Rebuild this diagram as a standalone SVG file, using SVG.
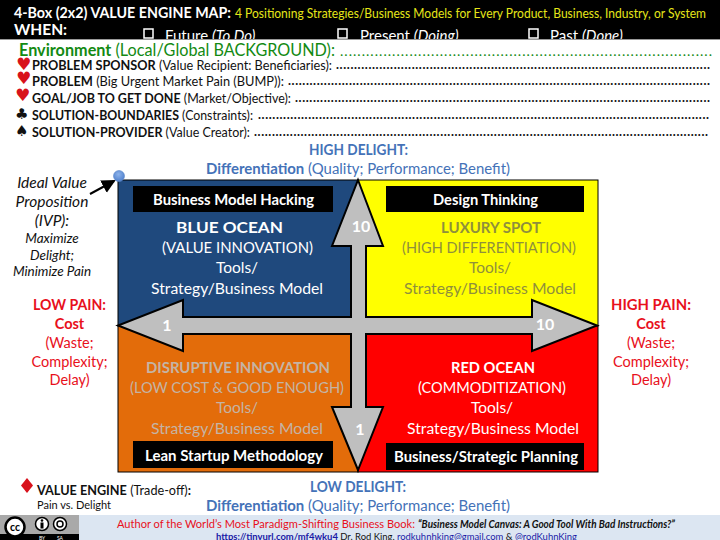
<svg xmlns="http://www.w3.org/2000/svg" width="720" height="540" viewBox="0 0 720 540">
<style>
text{font-family:Lato,"Noto Sans",sans-serif;}
.c{text-anchor:middle}
.b{font-weight:700}
.i{font-style:italic}
.row{font-size:12.5px;fill:#111}
.w{fill:#fff}
.q{font-size:15.5px}
.tag{font-size:14.5px;font-weight:700;fill:#fff;text-anchor:middle}
.blue{fill:#4472b8}
.red{fill:#e8101c}
.m{font-size:14.5px}
.cb{fill:none;stroke:#fff;stroke-width:1.5}
.arr{fill:#bfbfbf;stroke:#000;stroke-width:2;stroke-linejoin:miter}
.num{font-size:16px;font-weight:700;fill:#fff;text-anchor:middle}
.dots{font-size:12.5px;fill:#111;font-weight:700}
.sym{font-family:"DejaVu Sans",sans-serif}
.ol{fill:#8f8f3c}
.or{fill:#c5b4a4}
</style>
<defs>
<marker id="ah" markerWidth="8" markerHeight="8" refX="6" refY="3.5" orient="auto"><path d="M0,0L7,3.5L0,7Z" fill="#000"/></marker>
<radialGradient id="ball" cx="45%" cy="35%" r="70%"><stop offset="0" stop-color="#8db3ea"/><stop offset="1" stop-color="#4a7ccb"/></radialGradient>
</defs>
<g id="header">
<rect x="0" y="0" width="720" height="39" fill="#000"/>
<text x="14" y="18" class="b w" font-size="14.5" textLength="217" lengthAdjust="spacingAndGlyphs">4-Box (2x2) VALUE ENGINE MAP:</text>
<text x="235" y="18" font-size="12.4" fill="#e6e619" textLength="471" lengthAdjust="spacingAndGlyphs">4 Positioning Strategies/Business Models for Every Product, Business, Industry, or System</text>
<text x="14" y="35" class="b w" font-size="15.5">WHEN:</text>
<rect x="144" y="29" width="9" height="9" class="cb"/>
<text x="165" y="41" class="w" font-size="15">Future <tspan class="i">(To Do)</tspan></text>
<rect x="338" y="29" width="9" height="9" class="cb"/>
<text x="360" y="41" class="w" font-size="15">Present <tspan class="i">(Doing)</tspan></text>
<rect x="529" y="29" width="9" height="9" class="cb"/>
<text x="550" y="41" class="w" font-size="15">Past <tspan class="i">(Done)</tspan></text>
<rect x="0" y="39" width="720" height="12" fill="#fff"/>
<rect x="0" y="39" width="720" height="1" fill="#999"/>
</g>
<g id="environment">
<text x="19" y="56" font-size="16.5" fill="#138a13" textLength="316" lengthAdjust="spacingAndGlyphs"><tspan class="b">Environment</tspan> (Local/Global BACKGROUND):</text>
<text x="340" y="56" font-size="14" fill="#138a13" textLength="372" lengthAdjust="spacing">......................................................................................</text>
</g>
<g id="rows">
<text x="16" y="70" font-size="17" fill="#d8121c" class="sym">♥</text>
<text x="32" y="70" class="row" textLength="300" lengthAdjust="spacingAndGlyphs"><tspan class="b">PROBLEM SPONSOR</tspan> (Value Recipient: Beneficiaries):</text>
<text x="336" y="69" class="dots" textLength="374">........................................................................................................</text>
<text x="16" y="84" font-size="17" fill="#d8121c" class="sym">♥</text>
<text x="32" y="86" class="row" textLength="252" lengthAdjust="spacingAndGlyphs"><tspan class="b">PROBLEM</tspan> (Big Urgent Market Pain (BUMP)):</text>
<text x="288" y="85" class="dots" textLength="422">......................................................................................................................</text>
<text x="15" y="101" font-size="17" fill="#d8121c" class="sym">♥</text>
<text x="32" y="103" class="row" textLength="259" lengthAdjust="spacingAndGlyphs"><tspan class="b">GOAL/JOB TO GET DONE</tspan> (Market/Objective):</text>
<text x="295" y="102" class="dots" textLength="415">....................................................................................................................</text>
<text x="15" y="119" font-size="15" fill="#111" class="sym">♣</text>
<text x="32" y="120" class="row" textLength="221" lengthAdjust="spacingAndGlyphs"><tspan class="b">SOLUTION-BOUNDARIES</tspan> (Constraints):</text>
<text x="258" y="119" class="dots" textLength="451">..............................................................................................................................</text>
<text x="15" y="136" font-size="15" fill="#111" class="sym">♠</text>
<text x="32" y="137" class="row" textLength="218" lengthAdjust="spacingAndGlyphs"><tspan class="b">SOLUTION-PROVIDER</tspan> (Value Creator):</text>
<text x="254" y="136" class="dots" textLength="454">...............................................................................................................................</text>
</g>
<g id="top-label">
<text x="358.500" y="155" class="c b blue" font-size="14.5" textLength="99" lengthAdjust="spacingAndGlyphs">HIGH DELIGHT:</text>
<text x="206" y="174" class="blue" font-size="14.5" textLength="304" lengthAdjust="spacingAndGlyphs"><tspan class="b">Differentiation</tspan> (Quality; Performance; Benefit)</text>
</g>
<g id="q-blue">
<rect x="118" y="180" width="240" height="146" fill="#1f497d" stroke="#000" stroke-width="1"/>
<rect x="133" y="186" width="200" height="26" fill="#000"/>
<text x="233.500" y="205" class="tag" textLength="161" lengthAdjust="spacingAndGlyphs">Business Model Hacking</text>
<text x="229.500" y="233" class="c w q b" textLength="107" lengthAdjust="spacingAndGlyphs">BLUE OCEAN</text>
<text x="237.500" y="253" class="c w q" textLength="151" lengthAdjust="spacingAndGlyphs">(VALUE INNOVATION)</text>
<text x="237" y="273" class="c w q">Tools/</text>
<text x="237" y="294" class="c w q" textLength="172" lengthAdjust="spacingAndGlyphs">Strategy/Business Model</text>
</g>
<g id="q-yellow">
<rect x="358" y="180" width="240" height="146" fill="#ffff00" stroke="#000" stroke-width="1"/>
<rect x="386" y="186" width="198" height="26" fill="#000"/>
<text x="485.500" y="205" class="tag" textLength="105" lengthAdjust="spacingAndGlyphs">Design Thinking</text>
<text x="491" y="233" class="c q b ol" textLength="100" lengthAdjust="spacingAndGlyphs">LUXURY SPOT</text>
<text x="489" y="253" class="c q ol" textLength="174" lengthAdjust="spacingAndGlyphs">(HIGH DIFFERENTIATION)</text>
<text x="490" y="273" class="c q ol">Tools/</text>
<text x="490" y="294" class="c q ol" textLength="172" lengthAdjust="spacingAndGlyphs">Strategy/Business Model</text>
</g>
<g id="q-orange">
<rect x="118" y="326" width="240" height="146" fill="#e36c0a" stroke="#000" stroke-width="1"/>
<rect x="133" y="441" width="200" height="27" fill="#000"/>
<text x="234" y="461" class="tag" textLength="178" lengthAdjust="spacingAndGlyphs">Lean Startup Methodology</text>
<text x="238" y="373" class="c q b or" textLength="184" lengthAdjust="spacingAndGlyphs">DISRUPTIVE INNOVATION</text>
<text x="237" y="393" class="c q or" textLength="214" lengthAdjust="spacingAndGlyphs">(LOW COST &amp; GOOD ENOUGH)</text>
<text x="237" y="413" class="c q or">Tools/</text>
<text x="237" y="434" class="c q or" textLength="172" lengthAdjust="spacingAndGlyphs">Strategy/Business Model</text>
</g>
<g id="q-red">
<rect x="358" y="326" width="240" height="146" fill="#ff0000" stroke="#000" stroke-width="1"/>
<rect x="386" y="443" width="198" height="27" fill="#000"/>
<text x="486" y="462" class="tag" textLength="184" lengthAdjust="spacingAndGlyphs">Business/Strategic Planning</text>
<text x="493" y="373" class="c w q b" textLength="84" lengthAdjust="spacingAndGlyphs">RED OCEAN</text>
<text x="492" y="393" class="c w q" textLength="148" lengthAdjust="spacingAndGlyphs">(COMMODITIZATION)</text>
<text x="492" y="413" class="c w q">Tools/</text>
<text x="493" y="434" class="c w q" textLength="172" lengthAdjust="spacingAndGlyphs">Strategy/Business Model</text>
</g>
<g id="connectors">
<path class="arr" d="M358,180L383,246H366V317H532V300L597,325.500L532,351V334H366V407H383L358,470L332,407H351V334H183V351L118,325.500L183,300V317H351V246H332Z"/>
<line x1="90" y1="194" x2="114" y2="181" stroke="#000" stroke-width="2" marker-end="url(#ah)"/>
</g>
<g id="axis-numbers">
<text x="361" y="232" class="num">10</text>
<text x="167" y="331" class="num">1</text>
<text x="545" y="330" class="num">10</text>
<text x="360" y="435" class="num">1</text>
</g>
<g id="ivp">
<circle cx="119" cy="176" r="5.500" fill="url(#ball)" stroke="#5a86c8" stroke-width=".6"/>
<text x="52" y="188" class="c i" font-size="15.5" fill="#111">Ideal Value</text>
<text x="52" y="207" class="c i" font-size="15.5" fill="#111">Proposition</text>
<text x="52" y="226" class="c i" font-size="15.5" fill="#111">(IVP):</text>
<text x="52" y="243" class="c i" font-size="13.5" fill="#111">Maximize</text>
<text x="52" y="260" class="c i" font-size="13.5" fill="#111">Delight;</text>
<text x="52" y="276" class="c i" font-size="13.5" fill="#111">Minimize Pain</text>
</g>
<g id="low-pain">
<text x="69.500" y="310" class="c b red m" textLength="73" lengthAdjust="spacingAndGlyphs">LOW PAIN:</text>
<text x="69.500" y="329" class="c b red m">Cost</text>
<text x="69.500" y="348" class="c red m">(Waste;</text>
<text x="69.500" y="367" class="c red m">Complexity;</text>
<text x="69.500" y="385" class="c red m">Delay)</text>
</g>
<g id="high-pain">
<text x="651" y="310" class="c b red m" textLength="80" lengthAdjust="spacingAndGlyphs">HIGH PAIN:</text>
<text x="651" y="329" class="c b red m">Cost</text>
<text x="651" y="348" class="c red m">(Waste;</text>
<text x="651" y="367" class="c red m">Complexity;</text>
<text x="651" y="385" class="c red m">Delay)</text>
</g>
<g id="bottom-label">
<text x="358" y="492" class="c b blue" font-size="14.5" textLength="96" lengthAdjust="spacingAndGlyphs">LOW DELIGHT:</text>
<text x="206" y="511" class="blue" font-size="14.5" textLength="304" lengthAdjust="spacingAndGlyphs"><tspan class="b">Differentiation</tspan> (Quality; Performance; Benefit)</text>
</g>
<g id="value-engine">
<path d="M27,478L33,485.500L27,493L21,485.500Z" fill="#d8121c"/>
<text x="37" y="495" class="row" textLength="154" lengthAdjust="spacingAndGlyphs"><tspan class="b">VALUE ENGINE</tspan> (Trade-off)<tspan class="b">:</tspan></text>
<text x="37" y="509" font-size="11" fill="#111" textLength="74" lengthAdjust="spacingAndGlyphs">Pain vs. Delight</text>
</g>
<g id="footer">
<rect x="0" y="515" width="720" height="25" fill="#dce6f2"/>
<rect x="0" y="515" width="79" height="25" fill="#a9a9a9"/>
<rect x="0" y="534" width="79" height="6" fill="#000"/>
<circle cx="15" cy="527" r="9.500" fill="#fff" stroke="#000" stroke-width="2.500"/>
<text x="15" y="531" class="c b" font-size="10.500" fill="#000">cc</text>
<circle cx="42" cy="524" r="6.500" fill="#fff" stroke="#000" stroke-width="1.500"/>
<circle cx="42" cy="520.500" r="1.300" fill="#000"/>
<rect x="40.500" y="522.500" width="3" height="6" fill="#000"/>
<circle cx="60" cy="524" r="6.500" fill="#fff" stroke="#000" stroke-width="1.500"/>
<circle cx="60" cy="524" r="3" fill="none" stroke="#000" stroke-width="1.500"/>
<text x="42" y="539.500" class="c" font-size="5" fill="#fff">BY</text>
<text x="60" y="539.500" class="c" font-size="5" fill="#fff">SA</text>
<text x="117" y="528" font-size="12" class="red" textLength="298" lengthAdjust="spacingAndGlyphs">Author of the World’s Most Paradigm-Shifting Business Book:</text>
<text x="418" y="528" font-size="10.500" class="b i" fill="#111" textLength="257" lengthAdjust="spacingAndGlyphs">“Business Model Canvas: A Good Tool With Bad Instructions?”</text>
<text x="216" y="539.500" font-size="10" fill="#111" textLength="361" lengthAdjust="spacingAndGlyphs"><tspan class="b" fill="#1a1aa6">https://tinyurl.com/mf4wku4</tspan> Dr. Rod King, <tspan fill="#1a1aa6" text-decoration="underline">rodkuhnhking@gmail.com</tspan> &amp; <tspan fill="#1a1aa6" text-decoration="underline">@rodKuhnKing</tspan></text>
</g>
</svg>
